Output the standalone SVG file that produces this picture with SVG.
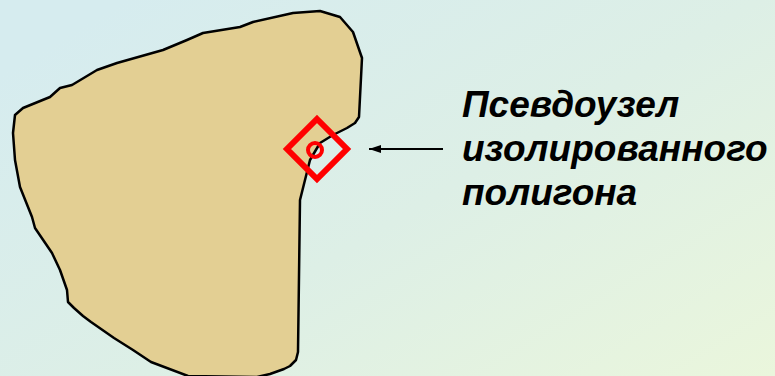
<svg xmlns="http://www.w3.org/2000/svg" width="775" height="376" viewBox="0 0 775 376">
<defs>
<linearGradient id="bg" x1="0" y1="0.2" x2="1" y2="1">
<stop offset="0" stop-color="#d6ecef"/>
<stop offset="0.5" stop-color="#ddefe6"/>
<stop offset="1" stop-color="#eaf6dc"/>
</linearGradient>
<marker id="ah" markerWidth="12" markerHeight="8" refX="12" refY="4" orient="auto" markerUnits="userSpaceOnUse">
<path d="M0,0 L12,4 L0,8 Z" fill="#000"/>
</marker>
<style>
.poly{fill:#e3cf93;stroke:#000;stroke-width:2.5;stroke-linejoin:round}
.mark{fill:none;stroke:#ff0000}
.lbl{font-family:"Liberation Sans",Arial,sans-serif;font-weight:bold;font-style:italic;font-size:37px;fill:#000}
.conn{stroke:#000;stroke-width:2;fill:none}
</style>
</defs>
<rect width="775" height="376" fill="url(#bg)"/>
<g id="polygon">
<path class="poly" d="M320,11 L340,17 L353,32 L362,58 L359,117 L355,123 L347,128 L333,135 L320,143 L310,160 L300,200 L298,352 L296,360 L290,366 L284,369 L270,374 L257,377 L188,376 L151,362 L133,350 L114,338 L91,322 L83,316 L74,308 L68,302 L67,290 L60,270 L52,253 L35,228 L32,217 L20,187 L15,160 L13,133 L15,115 L23,108 L50,97 L60,88 L72,85 L97,70 L117,63 L163,50 L187,40 L203,33 L240,27 L253,22 L293,13 Z"/>
</g>
<g id="pseudonode">
<path class="mark" stroke-width="6" d="M317,119 L347,149 L317,179 L287,149 Z"/>
<circle class="mark" stroke-width="4" cx="315" cy="150" r="7"/>
</g>
<g id="connectors">
<line class="conn" x1="443" y1="149" x2="369" y2="149" marker-end="url(#ah)"/>
</g>
<g id="label">
<text class="lbl" x="462" y="117">Псевдоузел</text>
<text class="lbl" x="462" y="161">изолированного</text>
<text class="lbl" x="462" y="205">полигона</text>
</g>
</svg>
